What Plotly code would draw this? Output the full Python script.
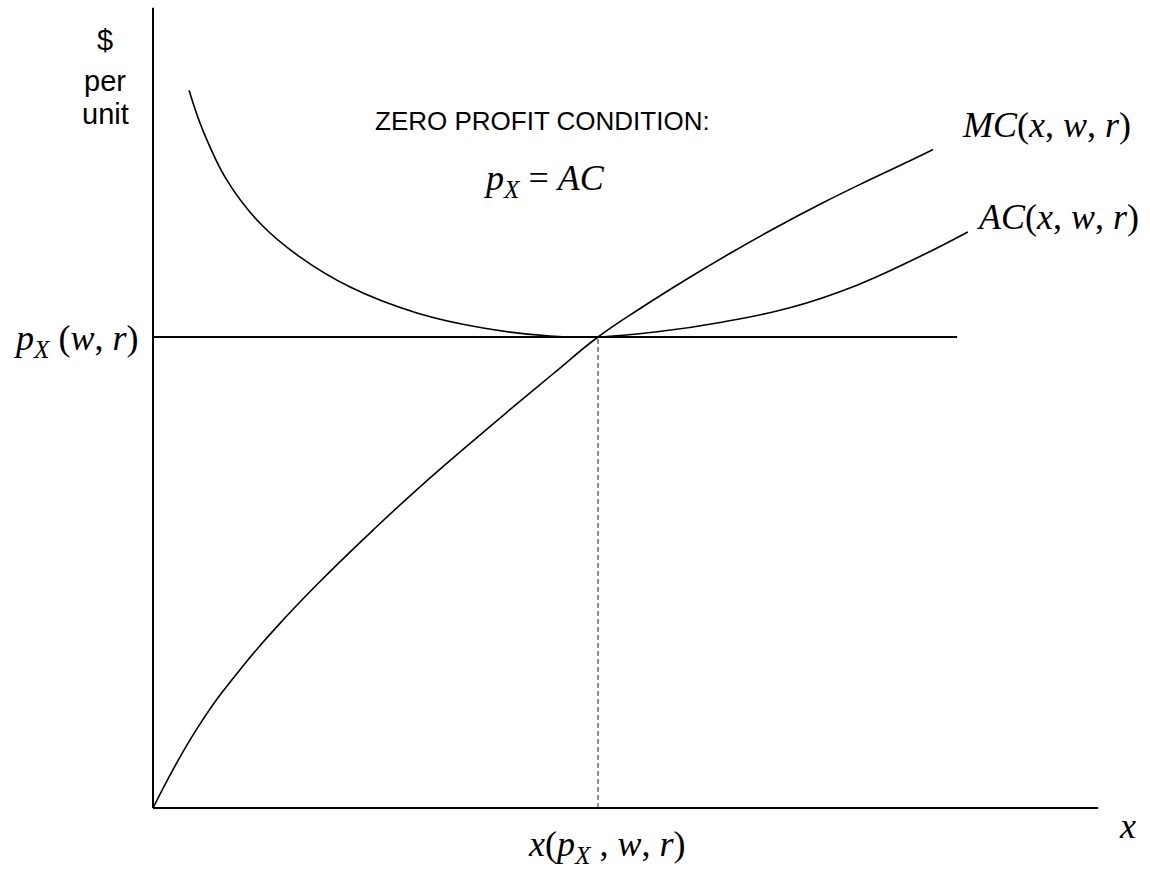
import plotly.graph_objects as go

# ---- data (economic units: output q, $ per unit p) ----
mc_q = [0.0, 1.0, 2.0, 3.0, 4.0, 5.0, 6.0, 7.0, 8.0, 9.0, 10.0,
        11.0, 12.0, 13.0, 14.0, 15.0, 16.0, 17.0, 17.53]
mc_p = [0.0, 1.70, 2.99, 4.07, 5.04, 5.95, 6.82, 7.64, 8.44, 9.225, 10.0,
        10.637, 11.231, 11.794, 12.325, 12.824, 13.291, 13.737, 13.981]

ac_q = [0.81, 1.12, 1.66, 2.40, 3.30, 4.43, 5.93, 7.42, 8.92, 10.0, 11.33, 12.81, 14.31, 15.82, 17.30, 18.31]
ac_p = [15.24, 14.39, 13.33, 12.42, 11.70, 11.06, 10.51, 10.19, 10.02, 10.0, 10.11, 10.32, 10.62, 11.10, 11.74, 12.23]

price_q = [0.0, 18.07]
price_p = [10.0, 10.0]

qstar_q = [10.0, 10.0]
qstar_p = [0.0, 10.0]

yaxis_q = [0.0, 0.0]
yaxis_p = [0.0, 16.99]
xaxis_q = [0.0, 21.24]
xaxis_p = [0.0, 0.0]

# ---- layout geometry ----
W, H = 1150, 871
X0, Y0, SX, SY = 153, 808, 44.5, 47.1


def q_of(px):
    return (px - X0) / SX


def p_of(py):
    return (Y0 - py) / SY


SERIF = "Liberation Serif, Times New Roman, serif"
SANS = "Liberation Sans, Arial, sans-serif"

fig = go.Figure()


def line(xs, ys, width=1.5, dash=None, color="black", shape="linear", smoothing=1.0):
    fig.add_trace(go.Scatter(x=xs, y=ys, mode="lines", hoverinfo="skip",
                             line=dict(color=color, width=width, dash=dash,
                                       shape=shape, smoothing=smoothing)))


line(yaxis_q, yaxis_p, width=2)
line(xaxis_q, xaxis_p, width=2)
line(price_q, price_p, width=1.8)
line(qstar_q, qstar_p, width=1, dash="5px,3px", color="#222222")
line(mc_q, mc_p, width=1.6, shape="spline", smoothing=1.3)
line(ac_q, ac_p, width=1.6, shape="spline", smoothing=1.1)


def ann(text, px, py, size, family, xanchor="center", yanchor="middle"):
    fig.add_annotation(x=q_of(px), y=p_of(py), xref="x", yref="y", text=text,
                       showarrow=False, xanchor=xanchor, yanchor=yanchor,
                       font=dict(size=size, family=family, color="black"))


ann("$", 105, 40, 29, SANS)
ann("per", 105, 81, 29, SANS)
ann("unit", 105, 114, 29, SANS)
ann("ZERO PROFIT CONDITION:", 542, 121, 26, SANS)
ann("<i>p</i><sub><i>X</i></sub> = <i>AC</i>", 544, 180, 36, SERIF)
ann("<i>MC</i>(<i>x</i>, <i>w</i>, <i>r</i>)", 960, 125, 36, SERIF, xanchor="left")
ann("<i>AC</i>(<i>x</i>, <i>w</i>, <i>r</i>)", 975, 217, 36, SERIF, xanchor="left")
ann("<i>p</i><sub><i>X</i></sub> (<i>w</i>, <i>r</i>)", 140, 340, 36, SERIF, xanchor="right")
ann("<i>x</i>(<i>p</i><sub><i>X</i></sub> , <i>w</i>, <i>r</i>)", 606, 846, 36, SERIF)
ann("<i>x</i>", 1127, 826, 36, SERIF)

fig.update_layout(
    width=W, height=H,
    margin=dict(l=0, r=0, t=0, b=0),
    paper_bgcolor="white", plot_bgcolor="white",
    showlegend=False,
    xaxis=dict(range=[q_of(0), q_of(W)], visible=False, fixedrange=True),
    yaxis=dict(range=[p_of(H), p_of(0)], visible=False, fixedrange=True),
)

fig.write_html("out.html", post_script="document.body.style.margin='0';",
               config={"displayModeBar": False})
